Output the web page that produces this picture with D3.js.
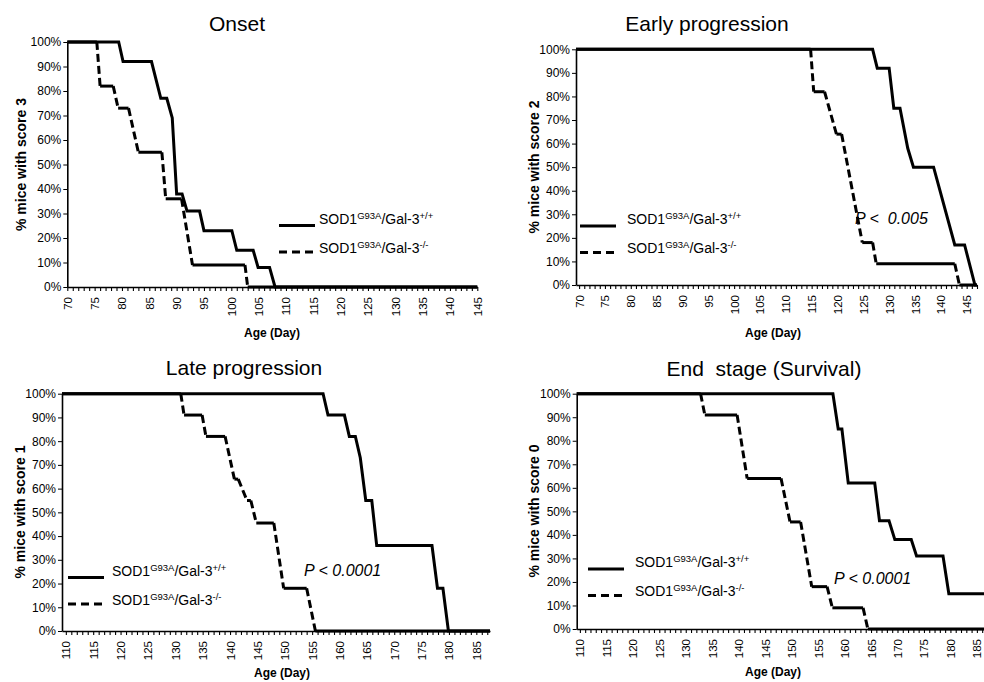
<!DOCTYPE html>
<html>
<head>
<meta charset="utf-8">
<script src="https://cdn.jsdelivr.net/npm/d3@7"></script>
<style>
  body { margin: 0; background: #fff; }
  svg { display: block; font-family: "Liberation Sans", Arial, sans-serif; }
</style>
</head>
<body>
<svg id="chart" width="984" height="682"></svg>
<script>
// values: [day, % mice] vertices of each curve
const onsetWt = [[70,100],[79.4,100],[80.2,92],[85.4,92],[87.1,77],[88.2,77],[89.2,69],[90,38],[91,38],[91.9,31],[94.2,31],[95,23],[100.1,23],[101,15],[104,15],[104.9,8],[107,8],[108,0],[145,0]];
const onsetKo = [[70,100],[75.4,100],[76,82],[78.4,82],[79.3,73],[81.2,73],[83,55],[87.3,55],[88,36],[90.9,36],[92.9,9],[102.5,9],[103,0],[145,0]];

const earlyWt = [[69.4,100],[126.8,100],[127.7,92],[130,92],[130.9,75],[132.1,75],[133.6,58],[134.7,50],[138.6,50],[142.7,17],[144.6,17],[146.6,0],[147,0]];
const earlyKo = [[69.4,100],[114.8,100],[115.4,82],[117.5,82],[119.8,64],[120.8,64],[124.8,18],[126.8,18],[127.5,9],[142.7,9],[143.6,0],[147,0]];

const lateWt = [[109.3,100],[157,100],[157.9,91],[160.9,91],[161.8,82],[162.9,82],[163.8,73],[164.8,55],[165.9,55],[166.8,36],[176.9,36],[177.9,18],[178.9,18],[179.9,0],[187.5,0]];
const lateKo = [[109.3,100],[131,100],[131.6,91],[134.9,91],[135.6,82],[139.1,82],[140.8,64],[141.5,64],[143.1,55],[143.8,55],[144.8,45.5],[148,45.5],[149.8,18],[154,18],[155.6,0],[187.5,0]];

const endWt = [[109.4,100],[157.8,100],[158.8,85],[159.5,85],[160.7,62],[165.7,62],[166.6,46],[168.4,46],[169.5,38],[172.6,38],[173.6,31],[178.6,31],[179.7,15],[186.4,15]];
const endKo = [[109.4,100],[132.8,100],[133.6,91],[139.7,91],[141.6,64],[148,64],[149.7,45.5],[151.7,45.5],[153.8,18],[156.7,18],[157.7,9],[163.5,9],[164.4,0],[186.4,0]];

const yTicks = [0,10,20,30,40,50,60,70,80,90,100];
const titles = ["Onset", "Early progression", "Late progression", "End\u00a0 stage (Survival)"];
const yTitles = ["% mice with score 3", "% mice with score 2", "% mice with score 1", "% mice with score 0"];
const pTexts = [null, "P <\u00a0 0.005", "P < 0.0001", "P < 0.0001"];

// layout of each panel (pixels)
const panels = [
  {wt: onsetWt, ko: onsetKo, x0: 70, x1: 145, left: 67.3, right: 477.3, top: 42, bottom: 287, labMax: 145,
   title: [237, 31], yt: [26, 164.5], xt: [272, 337], leg: [279, 225.5, 319], p: null},
  {wt: earlyWt, ko: earlyKo, x0: 69.4, x1: 147, left: 576, right: 977, top: 49.3, bottom: 285, labMax: 145,
   title: [707, 31], yt: [539, 167], xt: [773, 337], leg: [580, 226, 627], p: [855, 224]},
  {wt: lateWt, ko: lateKo, x0: 109.3, x1: 187.5, left: 62, right: 490, top: 393.7, bottom: 631, labMax: 185,
   title: [244, 375], yt: [24.5, 512], xt: [282, 677], leg: [68, 577.5, 112], p: [304, 576]},
  {wt: endWt, ko: endKo, x0: 109.4, x1: 186.4, left: 576.7, right: 984.3, top: 393.7, bottom: 629, labMax: 185,
   title: [764, 376], yt: [538.5, 511], xt: [773, 676], leg: [588, 569, 635], p: [834, 584]}
];

const svg = d3.select("#chart");

panels.forEach((pn, i) => {
  const x = d3.scaleLinear().domain([pn.x0, pn.x1]).range([pn.left, pn.right]);
  const y = d3.scaleLinear().domain([0, 100]).range([pn.bottom, pn.top]);
  const g = svg.append("g");

  g.append("text")
    .attr("x", pn.title[0]).attr("y", pn.title[1])
    .attr("text-anchor", "middle")
    .attr("font-size", "21px")
    .text(titles[i]);

  // x axis: a tick every day, label every 5
  const days = d3.range(Math.ceil(pn.x0), Math.floor(pn.x1) + 1);
  const xAxis = g.append("g")
    .attr("transform", `translate(0,${pn.bottom})`)
    .call(d3.axisBottom(x).tickValues(days).tickSize(4).tickSizeOuter(0)
      .tickFormat(d => (d % 5 === 0 && d <= pn.labMax) ? d : ""));
  xAxis.select(".domain").attr("stroke", "#000").attr("stroke-width", 1.6);
  xAxis.selectAll(".tick line").attr("stroke", "#000").attr("stroke-width", 1.1);
  xAxis.selectAll(".tick text")
    .attr("font-size", "11.5px")
    .attr("font-family", "Liberation Sans, Arial, sans-serif")
    .attr("fill", "#000")
    .attr("text-anchor", "end")
    .attr("dy", "0.35em")
    .attr("transform", "translate(0,10) rotate(-90)")
    .attr("x", 0).attr("y", 0);

  const yAxis = g.append("g")
    .attr("transform", `translate(${pn.left},0)`)
    .call(d3.axisLeft(y).tickValues(yTicks).tickSize(4).tickSizeOuter(0).tickFormat(d => d + "%"));
  yAxis.select(".domain").attr("stroke", "#000").attr("stroke-width", 1.6);
  yAxis.selectAll(".tick line").attr("stroke", "#000");
  yAxis.selectAll(".tick text")
    .attr("font-size", "12px")
    .attr("font-family", "Liberation Sans, Arial, sans-serif")
    .attr("fill", "#000")
    .attr("x", -6);

  g.append("text")
    .attr("transform", `translate(${pn.yt[0]},${pn.yt[1]}) rotate(-90)`)
    .attr("text-anchor", "middle")
    .attr("font-size", "14px")
    .attr("font-weight", "bold")
    .text(yTitles[i]);

  g.append("text")
    .attr("x", pn.xt[0]).attr("y", pn.xt[1])
    .attr("text-anchor", "middle")
    .attr("font-size", "12px")
    .attr("font-weight", "bold")
    .text("Age (Day)");

  // knockout curve: flat runs solid, drops dashed
  const segs = d3.pairs(pn.ko);
  g.selectAll(".ko")
    .data(segs)
    .enter()
    .append("line")
    .attr("x1", d => x(d[0][0])).attr("y1", d => y(d[0][1]))
    .attr("x2", d => x(d[1][0])).attr("y2", d => y(d[1][1]))
    .attr("stroke", "#000")
    .attr("stroke-width", 3)
    .attr("stroke-dasharray", d => d[0][1] === d[1][1] ? null : "8,4");

  const line = d3.line().x(d => x(d[0])).y(d => y(d[1]));
  g.append("path")
    .attr("d", line(pn.wt))
    .attr("fill", "none")
    .attr("stroke", "#000")
    .attr("stroke-width", 3);

  // legend
  const [lx, ly, tx] = pn.leg;
  g.append("line").attr("x1", lx).attr("x2", lx + 36).attr("y1", ly).attr("y2", ly)
    .attr("stroke", "#000").attr("stroke-width", 3);
  g.append("line").attr("x1", lx).attr("x2", lx + 34).attr("y1", ly + 26.5).attr("y2", ly + 26.5)
    .attr("stroke", "#000").attr("stroke-width", 3).attr("stroke-dasharray", "8,5");

  [["+/+", 0], ["-/-", 29]].forEach(([sup, off]) => {
    const t = g.append("text")
      .attr("x", tx).attr("y", ly - 2 + off)
      .attr("font-size", "14px");
    t.append("tspan").text("SOD1");
    t.append("tspan").attr("font-size", "9.5px").attr("dy", -5).text("G93A");
    t.append("tspan").attr("dy", 5).text("/Gal-3");
    t.append("tspan").attr("font-size", "9.5px").attr("dy", -5).text(sup);
  });

  if (pn.p) {
    g.append("text")
      .attr("x", pn.p[0]).attr("y", pn.p[1])
      .attr("font-size", "16px")
      .attr("font-style", "italic")
      .text(pTexts[i]);
  }
});
</script>
</body>
</html>
